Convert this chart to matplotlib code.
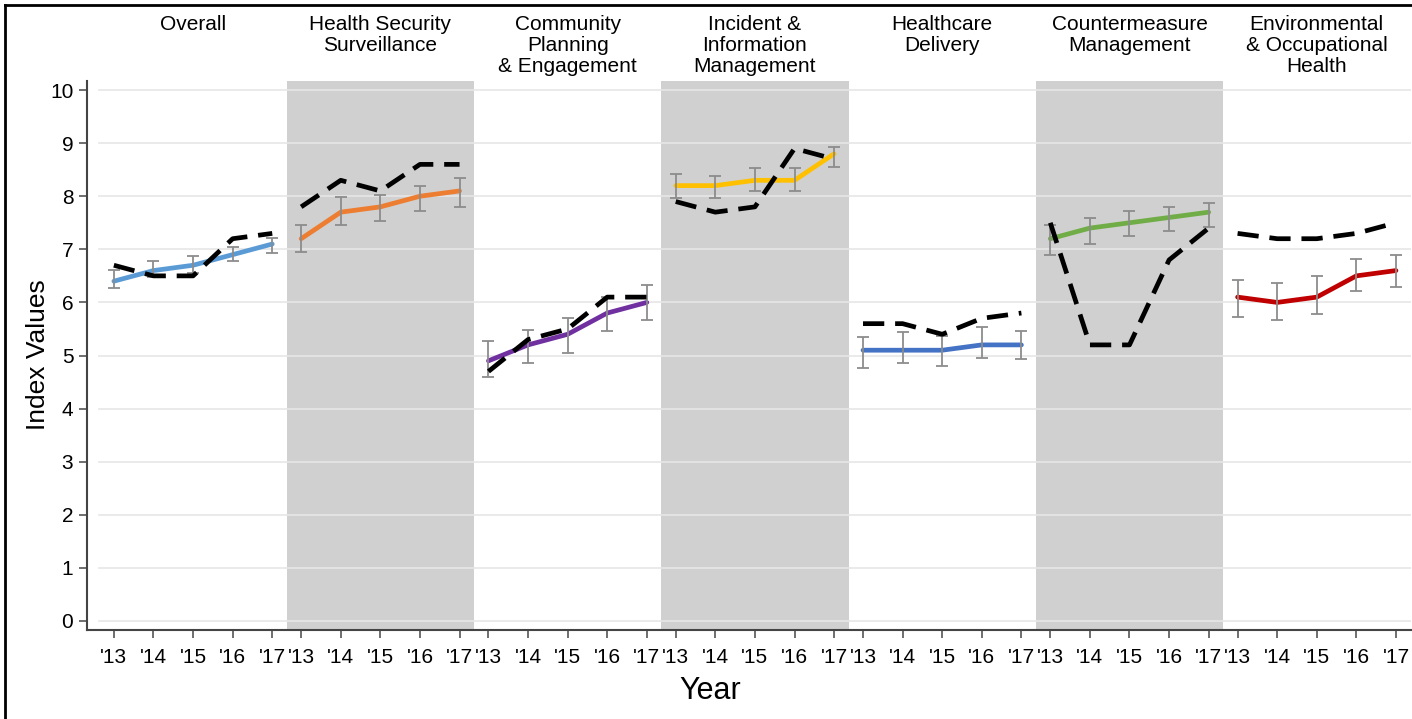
import matplotlib
matplotlib.use("Agg")
import matplotlib.pyplot as plt
from matplotlib.lines import Line2D
import matplotlib.transforms as mtransforms
import numpy as np

plt.rcParams["font.family"] = ["Liberation Sans", "DejaVu Sans"]

## -----------------------------------------------------------------------------
# Data
years = ["'13", "'14", "'15", "'16", "'17"]
panels = ["Overall",
          "Health Security\nSurveillance",
          "Community\nPlanning\n& Engagement",
          "Incident &\nInformation\nManagement",
          "Healthcare\nDelivery",
          "Countermeasure\nManagement",
          "Environmental\n& Occupational\nHealth"]
colors = ["#5b9bd5", "#ed7d31", "#7030a0", "#ffc000", "#4472c4", "#70ad47", "#c00000"]

# index values
overall = [6.4, 6.6, 6.7, 6.9, 7.1]
hss = [7.2, 7.7, 7.8, 8.0, 8.1]
cpe = [4.9, 5.2, 5.4, 5.8, 6.0]
iim = [8.2, 8.2, 8.3, 8.3, 8.8]
hcd = [5.1, 5.1, 5.1, 5.2, 5.2]
cm = [7.2, 7.4, 7.5, 7.6, 7.7]
eoh = [6.1, 6.0, 6.1, 6.5, 6.6]

# confidence interval low / high
overall_lo = [6.27, 6.48, 6.55, 6.78, 6.93]
overall_hi = [6.61, 6.78, 6.87, 7.04, 7.21]
hss_lo = [6.95, 7.46, 7.53, 7.72, 7.80]
hss_hi = [7.46, 7.99, 8.02, 8.19, 8.34]
cpe_lo = [4.60, 4.86, 5.05, 5.46, 5.67]
cpe_hi = [5.27, 5.48, 5.70, 6.10, 6.33]
iim_lo = [7.97, 7.97, 8.10, 8.10, 8.55]
iim_hi = [8.42, 8.38, 8.53, 8.53, 8.93]
hcd_lo = [4.76, 4.86, 4.80, 4.95, 4.93]
hcd_hi = [5.35, 5.44, 5.37, 5.54, 5.46]
cm_lo = [6.89, 7.10, 7.25, 7.34, 7.42]
cm_hi = [7.46, 7.59, 7.72, 7.80, 7.87]
eoh_lo = [5.73, 5.67, 5.78, 6.21, 6.29]
eoh_hi = [6.42, 6.37, 6.50, 6.82, 6.89]

# dashed comparison series
overall_cmp = [6.7, 6.5, 6.5, 7.2, 7.3]
hss_cmp = [7.8, 8.3, 8.1, 8.6, 8.6]
cpe_cmp = [4.7, 5.3, 5.5, 6.1, 6.1]
iim_cmp = [7.9, 7.7, 7.8, 8.9, 8.7]
hcd_cmp = [5.6, 5.6, 5.4, 5.7, 5.8]
cm_cmp = [7.5, 5.2, 5.2, 6.8, 7.4]
eoh_cmp = [7.3, 7.2, 7.2, 7.3, 7.5]

means = [overall, hss, cpe, iim, hcd, cm, eoh]
lows = [overall_lo, hss_lo, cpe_lo, iim_lo, hcd_lo, cm_lo, eoh_lo]
highs = [overall_hi, hss_hi, cpe_hi, iim_hi, hcd_hi, cm_hi, eoh_hi]
cmps = [overall_cmp, hss_cmp, cpe_cmp, iim_cmp, hcd_cmp, cm_cmp, eoh_cmp]

## -----------------------------------------------------------------------------
# plot
fig = plt.figure(figsize=(14.12, 7.19), dpi=100)
ax = fig.add_axes([0.0613, 0.1238, 0.938, 0.7635])

step = 4.73      # panel width in tick units
margin = 0.365
x0 = np.arange(len(years))
ticks, labels = [], []
title_trans = mtransforms.blended_transform_factory(ax.transData, fig.transFigure)

for p in range(len(panels)):
    xs = x0 + p * step
    left, right = xs[0] - margin, xs[-1] + margin
    if p % 2 == 1:
        ax.axvspan(left, right, color="#d0d0d0", lw=0, zorder=0)
    ax.plot(xs, means[p], color=colors[p], lw=3.4, zorder=3, solid_capstyle="round")
    m = np.array(means[p])
    yerr = [m - np.array(lows[p]), np.array(highs[p]) - m]
    ax.errorbar(xs, m, yerr=yerr, fmt="none", ecolor="#8c8c8c", elinewidth=1.3,
                capsize=4.3, capthick=1.3, zorder=4)
    ax.plot(xs, cmps[p], color="black", lw=3.4, ls=(0, (4.5, 2.3)), zorder=5)
    ax.text((left + right) / 2, 1 - 15 / 719, panels[p], transform=title_trans,
            ha="center", va="top", fontsize=15, linespacing=1.12)
    ticks += list(xs)
    labels += years

# light horizontal grid, starting at the first panel
for v in range(0, 11):
    ax.plot([-margin, 40], [v, v], color="#e6e6e6", lw=1.2, zorder=1)

ax.set_xlim(-0.69, 32.76)
ax.set_ylim(-0.17, 10.17)
ax.set_xticks(ticks)
ax.set_xticklabels(labels, fontsize=15)
ax.set_yticks(range(0, 11))
ax.tick_params(axis="y", labelsize=15, length=6, width=1.2, color="#555555")
ax.tick_params(axis="x", length=6, width=1.2, color="#555555", pad=7)

for side in ["top", "right"]:
    ax.spines[side].set_visible(False)
for side in ["left", "bottom"]:
    ax.spines[side].set_color("#444444")
    ax.spines[side].set_linewidth(1.5)

fig.text(38 / 1412, 1 - 355 / 719, "Index Values", fontsize=19, rotation=90,
         ha="center", va="center")
fig.text(710 / 1412, 1 - 691 / 719, "Year", fontsize=22, ha="center", va="center")

# outer frame lines
fig.add_artist(Line2D([5 / 1412, 5 / 1412], [0, 1 - 5 / 719], transform=fig.transFigure, color="black", lw=2))
fig.add_artist(Line2D([5 / 1412, 1], [1 - 5 / 719, 1 - 5 / 719], transform=fig.transFigure, color="black", lw=2))

plt.savefig("out.png", dpi=100)
